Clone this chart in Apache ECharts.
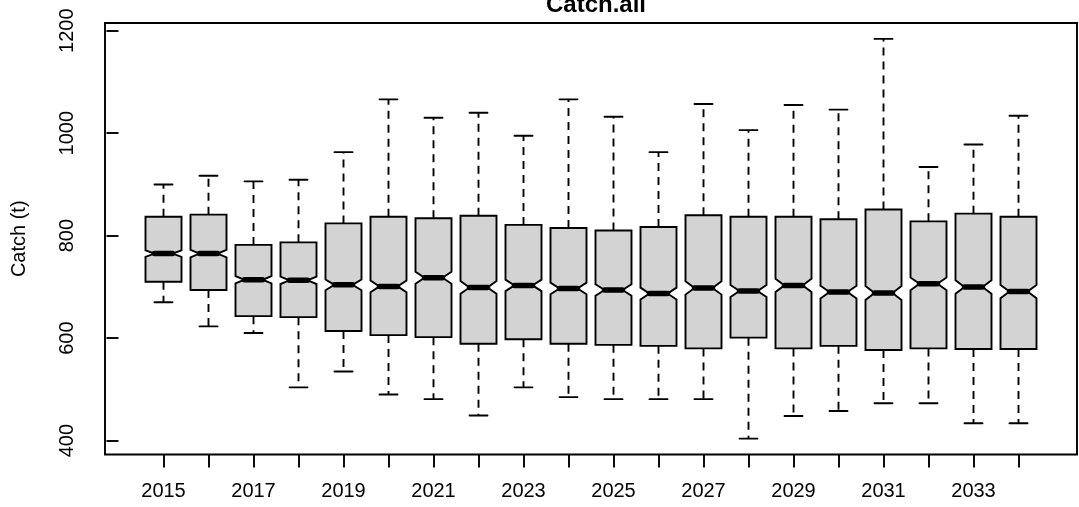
<!DOCTYPE html>
<html>
<head>
<meta charset="utf-8">
<title>Catch.all</title>
<script src="https://cdn.jsdelivr.net/npm/echarts@6/dist/echarts.min.js"></script>
<style>
    html, body {margin: 0; padding: 0; background: #fff;}
    #main {width: 1079px; height: 507px;}
</style>
</head>
<body>
<div id="main"></div>
<script>
    // values
    var years = ['2015', '2016', '2017', '2018', '2019', '2020', '2021', '2022', '2023', '2024',
        '2025', '2026', '2027', '2028', '2029', '2030', '2031', '2032', '2033', '2034'];
    var lowWhisker = [670, 623, 610, 504, 535, 490, 481, 449, 504, 485,
        481, 481, 481, 404, 448, 458, 473, 473, 434, 434];
    var lowerQuartile = [710, 694, 643, 641, 614, 606, 602, 589, 598, 589,
        587, 585, 580, 601, 580, 585, 577, 580, 579, 579];
    var median = [765, 765, 714, 713, 704, 701, 718, 699, 703, 697,
        694, 687, 698, 692, 703, 690, 688, 706, 700, 691];
    var upperQuartile = [837, 841, 782, 787, 824, 837, 834, 839, 821, 815,
        810, 817, 840, 837, 837, 832, 851, 828, 843, 837];
    var highWhisker = [900, 917, 906, 909, 963, 1066, 1030, 1040, 995, 1066,
        1032, 963, 1057, 1006, 1055, 1046, 1184, 934, 978, 1034];
    var yTicks = [400, 600, 800, 1000, 1200];
    var nRuns = 1000;   // runs behind each box, sets the notch size

    var boxData = [];
    for (var i = 0; i < years.length; i++) {
        boxData.push([i + 1, lowWhisker[i], lowerQuartile[i], median[i], upperQuartile[i], highWhisker[i]]);
    }
    var xTicks = [], xLabels = [];
    for (var k = 1; k <= years.length; k++) {
        xTicks.push(k);
        if (k % 2 === 1) xLabels.push(k);
    }

    var font = 'Liberation Sans, Arial, sans-serif';
    var lw = 1.9;

    // notched box like R's boxplot(notch = TRUE)
    function renderBox(params, api) {
        var x = api.value(0);
        var lo = api.value(1), q1 = api.value(2), md = api.value(3), q3 = api.value(4), hi = api.value(5);
        var notch = 1.58 * (q3 - q1) / Math.sqrt(nRuns);
        var hw = api.size([0.4, 0])[0];
        var cx = api.coord([x, md])[0];
        function py(v) {
            return api.coord([x, v])[1];
        }
        var pts = [
            [cx - hw, py(q1)], [cx + hw, py(q1)], [cx + hw, py(md - notch)], [cx + hw / 2, py(md)],
            [cx + hw, py(md + notch)], [cx + hw, py(q3)], [cx - hw, py(q3)], [cx - hw, py(md + notch)],
            [cx - hw / 2, py(md)], [cx - hw, py(md - notch)]
        ];
        var dash = {stroke: '#000', lineWidth: lw, lineDash: [8, 6]};
        var solid = {stroke: '#000', lineWidth: lw, lineCap: 'round'};
        return {
            type: 'group',
            children: [
                {type: 'line', shape: {x1: cx, y1: py(q3), x2: cx, y2: py(hi)}, style: dash},
                {type: 'line', shape: {x1: cx, y1: py(q1), x2: cx, y2: py(lo)}, style: dash},
                {type: 'line', shape: {x1: cx - hw / 2, y1: py(hi), x2: cx + hw / 2, y2: py(hi)}, style: solid},
                {type: 'line', shape: {x1: cx - hw / 2, y1: py(lo), x2: cx + hw / 2, y2: py(lo)}, style: solid},
                {type: 'polygon', shape: {points: pts}, style: {fill: '#d3d3d3', stroke: '#000', lineWidth: lw}},
                {type: 'line', shape: {x1: cx - hw / 2, y1: py(md), x2: cx + hw / 2, y2: py(md)},
                    style: {stroke: '#000', lineWidth: 5.5, lineCap: 'round'}}
            ]
        };
    }

    var myChart = echarts.init(document.getElementById('main'));
    var option = {
        animation: false,
        backgroundColor: '#fff',
        title: {
            text: 'Catch.all',
            left: 591,
            textAlign: 'center',
            top: -12,
            textStyle: {fontFamily: font, fontSize: 24, fontWeight: 'bold', color: '#000'}
        },
        grid: {
            left: 105, right: 2, top: 23, bottom: 52.5,
            show: true, borderColor: '#000', borderWidth: lw, backgroundColor: 'transparent'
        },
        xAxis: {
            type: 'value',
            min: -0.3,
            max: 21.3,
            splitLine: {show: false},
            axisLine: {show: false},
            axisTick: {show: true, customValues: xTicks, length: 13, lineStyle: {color: '#000', width: lw}},
            axisLabel: {
                customValues: xLabels, margin: 27,
                fontFamily: font, fontSize: 20, color: '#000',
                formatter: function (v) {
                    return years[Math.round(v) - 1];
                }
            }
        },
        yAxis: {
            type: 'value',
            min: 373,
            max: 1215,
            name: 'Catch (t)',
            nameLocation: 'middle',
            nameGap: 76,
            nameTextStyle: {fontFamily: font, fontSize: 20, color: '#000'},
            splitLine: {show: false},
            axisLine: {show: false},
            axisTick: {show: true, customValues: yTicks, length: 12, lineStyle: {color: '#000', width: lw}},
            axisLabel: {
                customValues: yTicks, rotate: 90, margin: 28,
                fontFamily: font, fontSize: 20, color: '#000',
                formatter: function (v) {
                    return String(v);
                }
            }
        },
        series: [{
            type: 'custom',
            renderItem: renderBox,
            encode: {x: 0, y: [1, 2, 3, 4, 5]},
            data: boxData
        }]
    };
    if (option && typeof option === "object") {
        myChart.setOption(option, true);
    }
</script>
</body>
</html>
